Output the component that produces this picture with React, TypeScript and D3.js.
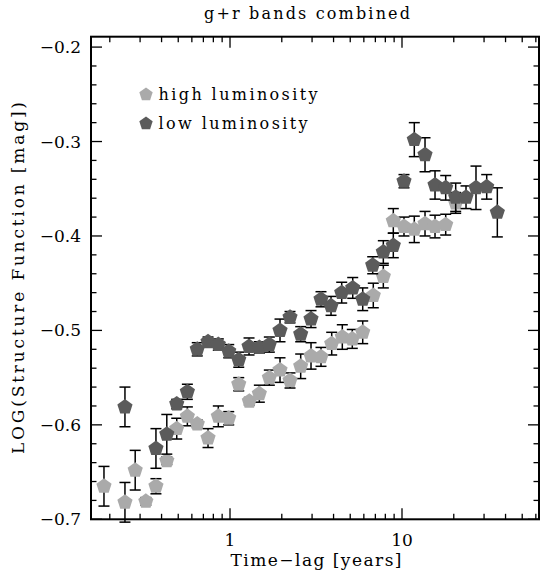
import React from "react";
import * as d3 from "d3";

const W = 540;
const H = 573;

const darkT = [0.245, 0.371, 0.429, 0.49, 0.565, 0.645, 0.745, 0.855, 0.983, 1.124, 1.29, 1.481, 1.693, 1.953, 2.233, 2.576, 2.958, 3.381, 3.867, 4.461, 5.17, 5.91, 6.755, 7.788, 8.901, 10.27, 11.79, 13.61, 15.56, 17.95, 20.52, 23.56, 26.93, 31.08, 35.83];
const darkSF = [-0.581, -0.625, -0.61, -0.578, -0.565, -0.52, -0.512, -0.515, -0.522, -0.531, -0.517, -0.518, -0.515, -0.5, -0.486, -0.504, -0.488, -0.467, -0.474, -0.46, -0.455, -0.467, -0.431, -0.417, -0.41, -0.342, -0.298, -0.314, -0.346, -0.349, -0.359, -0.359, -0.349, -0.348, -0.375];
const darkErr = [0.021, 0.021, 0.021, 0.005, 0.008, 0.007, 0.005, 0.006, 0.007, 0.008, 0.009, 0.006, 0.008, 0.012, 0.006, 0.008, 0.009, 0.008, 0.01, 0.011, 0.011, 0.012, 0.009, 0.012, 0.013, 0.007, 0.018, 0.018, 0.015, 0.013, 0.015, 0.012, 0.023, 0.013, 0.026];

const lightT = [0.185, 0.245, 0.281, 0.324, 0.371, 0.429, 0.49, 0.565, 0.645, 0.745, 0.855, 0.983, 1.124, 1.295, 1.481, 1.693, 1.953, 2.233, 2.576, 2.958, 3.381, 3.902, 4.497, 5.14, 5.91, 6.809, 7.788, 8.901, 10.27, 11.79, 13.61, 15.56, 17.95, 20.52];
const lightSF = [-0.665, -0.682, -0.648, -0.681, -0.665, -0.638, -0.604, -0.591, -0.599, -0.614, -0.591, -0.593, -0.557, -0.575, -0.567, -0.55, -0.542, -0.553, -0.538, -0.527, -0.528, -0.514, -0.507, -0.509, -0.502, -0.463, -0.443, -0.384, -0.39, -0.393, -0.387, -0.39, -0.388, -0.365];
const lightErr = [0.021, 0.021, 0.021, 0.004, 0.008, 0.004, 0.011, 0.01, 0.004, 0.01, 0.011, 0.007, 0.007, 0.004, 0.009, 0.008, 0.013, 0.008, 0.013, 0.014, 0.01, 0.012, 0.013, 0.01, 0.012, 0.013, 0.012, 0.013, 0.01, 0.014, 0.013, 0.012, 0.011, 0.011];

const xMajor = [1, 10];
const xMajorLabels = ["1", "10"];
const xMinor = [0.2, 0.3, 0.4, 0.5, 0.6, 0.7, 0.8, 0.9, 2, 3, 4, 5, 6, 7, 8, 9, 20, 30, 40, 50, 60];
const yMajor = [-0.7, -0.6, -0.5, -0.4, -0.3, -0.2];
const yMajorLabels = ["\u22120.7", "\u22120.6", "\u22120.5", "\u22120.4", "\u22120.3", "\u22120.2"];
const yMinor = [-0.68, -0.66, -0.64, -0.62, -0.58, -0.56, -0.54, -0.52, -0.48, -0.46, -0.44, -0.42, -0.38, -0.36, -0.34, -0.32, -0.28, -0.26, -0.24, -0.22];

const seriesNames = ["high luminosity", "low luminosity"];
const LIGHT = "#aaaaaa";
const DARK = "#5b5b5b";

const L = 91, R = 539, T = 36.7, B = 519.3;
const x = d3.scaleLog().domain([0.1555, 62.6]).range([L, R]);
const y = d3.scaleLinear().domain([-0.7, -0.189]).range([B, T]);

function pentagon(cx: number, cy: number, r: number) {
  const p = d3.path();
  for (let i = 0; i < 5; i++) {
    const a = -Math.PI / 2 + (i * 2 * Math.PI) / 5;
    const px = cx + r * Math.cos(a);
    const py = cy + r * Math.sin(a);
    if (i === 0) p.moveTo(px, py);
    else p.lineTo(px, py);
  }
  p.closePath();
  return p.toString();
}

const FONT = "'DejaVu Serif', serif";

function Series({ t, v, e, color }: { t: number[]; v: number[]; e: number[]; color: string }) {
  return (
    <g>
      {t.map((ti, i) => {
        const cx = x(ti);
        const y1 = y(v[i] + e[i]);
        const y2 = y(v[i] - e[i]);
        return (
          <g key={"e" + i} stroke="#000" strokeWidth={1.5}>
            <line x1={cx} x2={cx} y1={y1} y2={y2} />
            <line x1={cx - 5.5} x2={cx + 5.5} y1={y1} y2={y1} />
            <line x1={cx - 5.5} x2={cx + 5.5} y1={y2} y2={y2} />
          </g>
        );
      })}
      {t.map((ti, i) => (
        <path key={"p" + i} d={pentagon(x(ti), y(v[i]), 8)} fill={color} />
      ))}
    </g>
  );
}

export default function App() {
  return (
    <svg width={W} height={H} style={{ position: "absolute", left: 0, top: 0, background: "#fff" }} fontFamily={FONT}>
      <rect x={0} y={0} width={W} height={H} fill="#fff" />
      <text x={307} y={19} fontSize={16} textAnchor="middle" textLength={206} lengthAdjust="spacing">g+r bands combined</text>

      <Series t={lightT} v={lightSF} e={lightErr} color={LIGHT} />
      <Series t={darkT} v={darkSF} e={darkErr} color={DARK} />

      {/* ticks */}
      <g stroke="#000" strokeWidth={1.3}>
        {xMajor.map((d) => (
          <g key={"xm" + d}>
            <line x1={x(d)} x2={x(d)} y1={B} y2={B - 11} />
            <line x1={x(d)} x2={x(d)} y1={T} y2={T + 11} />
          </g>
        ))}
        {xMinor.map((d) => (
          <g key={"xn" + d}>
            <line x1={x(d)} x2={x(d)} y1={B} y2={B - 5.5} />
            <line x1={x(d)} x2={x(d)} y1={T} y2={T + 5.5} />
          </g>
        ))}
        {yMajor.map((d) => (
          <g key={"ym" + d}>
            <line x1={L} x2={L + 11} y1={y(d)} y2={y(d)} />
            <line x1={R} x2={R - 11} y1={y(d)} y2={y(d)} />
          </g>
        ))}
        {yMinor.map((d) => (
          <g key={"yn" + d}>
            <line x1={L} x2={L + 5.5} y1={y(d)} y2={y(d)} />
            <line x1={R} x2={R - 5.5} y1={y(d)} y2={y(d)} />
          </g>
        ))}
      </g>
      <rect x={L} y={T} width={R - L} height={B - T} fill="none" stroke="#000" strokeWidth={2} />

      {yMajor.map((d, i) => (
        <text key={"yl" + d} x={81} y={y(d) + 6} fontSize={17} textAnchor="end">{yMajorLabels[i]}</text>
      ))}
      {xMajor.map((d, i) => (
        <text key={"xl" + d} x={x(d)} y={546} fontSize={17} textAnchor="middle">{xMajorLabels[i]}</text>
      ))}
      <text x={316} y={566} fontSize={17} textAnchor="middle" textLength={171} lengthAdjust="spacing">Time{"\u2212"}lag [years]</text>
      <text transform="translate(24,278) rotate(-90)" fontSize={17} textAnchor="middle" textLength={352} lengthAdjust="spacing">LOG(Structure Function [mag])</text>

      {/* legend */}
      <path d={pentagon(146, 94.5, 7)} fill={LIGHT} />
      <text x={158.6} y={99.5} fontSize={16} textLength={159} lengthAdjust="spacing">{seriesNames[0]}</text>
      <path d={pentagon(146, 123.5, 7)} fill={DARK} />
      <text x={158.6} y={128.5} fontSize={16} textLength={149} lengthAdjust="spacing">{seriesNames[1]}</text>
    </svg>
  );
}
